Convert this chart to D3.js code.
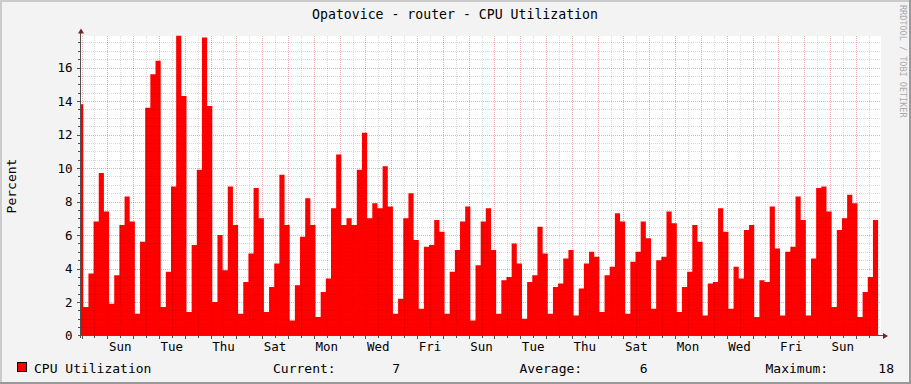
<!DOCTYPE html>
<html>
<head>
<meta charset="utf-8">
<script src="https://cdn.jsdelivr.net/npm/d3@7"></script>
<style>
  body { margin: 0; background: #fff; }
  svg text { font-family: "DejaVu Sans Mono", monospace; }
</style>
</head>
<body>
<svg id="chart" width="911" height="384"></svg>
<script>

////////////////////////// DATA //////////////////////////

// CPU utilization, one value per 4.8h step (first step is partial)
const cpuValues = [
  13.8, 1.7, 3.7, 6.8, 9.7, 7.4, 1.9, 3.6, 6.6, 8.3, 6.8, 1.3, 5.6, 13.6, 15.6, 16.4,
  1.7, 3.8, 8.9, 17.9, 14.3, 1.4, 5.4, 9.9, 17.8, 13.7, 2.0, 6.0, 3.9, 8.9, 6.6,
  1.3, 3.2, 4.9, 8.8, 7.0, 1.4, 2.9, 4.3, 9.6, 6.6, 0.9, 3.0, 5.9, 8.2, 6.6,
  1.1, 2.6, 3.4, 7.6, 10.8, 6.6, 7.0, 6.6, 9.9, 12.1, 7.0, 7.9, 7.6, 10.1, 7.7,
  1.3, 2.2, 7.0, 8.5, 5.7, 1.6, 5.3, 5.4, 6.9, 6.2, 1.3, 3.8, 5.1, 6.8, 7.7,
  0.9, 4.2, 6.8, 7.6, 5.1, 1.3, 3.3, 3.5, 5.5, 4.3, 1.0, 3.2, 3.6, 6.5, 4.9,
  1.3, 2.9, 3.1, 4.6, 5.1, 1.2, 2.8, 4.3, 5.0, 4.7, 1.4, 3.6, 4.1, 7.3, 6.8,
  1.3, 4.4, 5.0, 6.8, 5.8, 1.6, 4.5, 4.7, 7.4, 6.7, 1.4, 2.9, 3.8, 6.6, 5.6,
  1.2, 3.1, 3.2, 7.6, 6.2, 1.6, 4.1, 3.4, 6.3, 6.6, 1.1, 3.3, 3.2, 7.7, 5.2,
  1.2, 5.0, 5.3, 8.3, 6.9, 1.2, 4.6, 8.8, 8.9, 7.4, 1.7, 6.3, 7.0, 8.4, 7.9,
  1.1, 2.6, 3.5, 6.9
]

const yTickValues = [0, 2, 4, 6, 8, 10, 12, 14, 16]

const legendLabel = 'CPU Utilization'
const legendStats = [
  { label: 'Current:', value: '7' },
  { label: 'Average:', value: '6' },
  { label: 'Maximum:', value: '18' }
]

const titleText = 'Opatovice - router - CPU Utilization'
const yLabelText = 'Percent'
const creditText = 'RRDTOOL / TOBI OETIKER'

// time frame (a Saturday midnight, 31 days shown)
const HOUR = 3600 * 1000
const firstSat = Date.UTC(2010, 0, 2)
const timeStart = new Date(firstSat - 0.5 * HOUR)
const timeEnd = new Date(timeStart.getTime() + 31 * 24 * HOUR)
const stepMs = 4.8 * HOUR
const stepOffset = 1.6 * HOUR



////////////////////////// SETUP //////////////////////////

const svg = d3.select('#chart')
const W = 911, H = 384
const plotLeft = 81, plotRight = 881, plotTop = 36, plotBottom = 336

const xScale = d3.scaleUtc()
  .domain([timeStart, timeEnd])
  .range([plotLeft, plotRight])

const yScale = d3.scaleLinear()
  .domain([0, 17.9])
  .range([335.5, 35.7])

// step points, clipped to the frame start
const points = cpuValues.map((v, i) => {
  const t = firstSat + stepOffset + (i - 1) * stepMs
  return { t: new Date(Math.max(t, timeStart.getTime())), v: v }
})
points.push({
  t: new Date(firstSat + stepOffset + (cpuValues.length - 1) * stepMs),
  v: cpuValues[cpuValues.length - 1]
})



////////////////////////// BACKGROUND //////////////////////////

svg.append('rect')
  .attr('width', W).attr('height', H)
  .attr('fill', '#f3f3f3')

// shade frame
svg.append('rect').attr('x', 0).attr('y', 0).attr('width', W).attr('height', 2).attr('fill', '#cbcbcb')
svg.append('rect').attr('x', 0).attr('y', 0).attr('width', 2).attr('height', H).attr('fill', '#cbcbcb')
svg.append('rect').attr('x', 0).attr('y', H - 2).attr('width', W).attr('height', 2).attr('fill', '#999999')
svg.append('rect').attr('x', W - 2).attr('y', 0).attr('width', 2).attr('height', H).attr('fill', '#999999')

// canvas
svg.append('rect')
  .attr('x', plotLeft).attr('y', plotTop)
  .attr('width', plotRight - plotLeft).attr('height', plotBottom - plotTop)
  .attr('fill', '#ffffff')



////////////////////////// AREA //////////////////////////

const area = d3.area()
  .curve(d3.curveStepAfter)
  .x((d) => xScale(d.t))
  .y0(yScale(0))
  .y1((d) => yScale(d.v))

svg.append('path')
  .datum(points)
  .attr('d', area)
  .attr('fill', '#ff0000')



////////////////////////// GRID //////////////////////////

// translucent dark dots: light on the canvas, slightly darker on the red
const minorGrid = 'rgba(0,0,0,0.15)'
const majorGrid = 'rgba(210,0,0,0.33)'

const gridG = svg.append('g')
  .attr('shape-rendering', 'crispEdges')
  .attr('stroke-dasharray', '1,1')

// horizontal every 0.5, major every 2
const hLines = d3.range(1, 36).map((k) => k * 0.5)
hLines.forEach((v) => {
  const y = Math.round(yScale(v)) + 0.5
  gridG.append('line')
    .attr('x1', plotLeft).attr('x2', plotRight)
    .attr('y1', y).attr('y2', y)
    .attr('stroke', v % 2 === 0 ? majorGrid : minorGrid)
})

// vertical every 12h, major at midnight
const vLines = d3.utcHour.every(12).range(timeStart, timeEnd)
vLines.forEach((t) => {
  const x = Math.round(xScale(t)) + 0.5
  gridG.append('line')
    .attr('x1', x).attr('x2', x)
    .attr('y1', plotTop).attr('y2', plotBottom)
    .attr('stroke', t.getUTCHours() === 0 ? majorGrid : minorGrid)
})



////////////////////////// AXES //////////////////////////

const axisColor = '#505050'
const axisG = svg.append('g').attr('shape-rendering', 'crispEdges')

axisG.append('line')
  .attr('x1', 80.5).attr('x2', 80.5)
  .attr('y1', 33).attr('y2', 338)
  .attr('stroke', axisColor)

axisG.append('line')
  .attr('x1', 78).attr('x2', 883)
  .attr('y1', 335.5).attr('y2', 335.5)
  .attr('stroke', axisColor)

// small ticks on the axes
hLines.forEach((v) => {
  const y = Math.round(yScale(v)) + 0.5
  axisG.append('line')
    .attr('x1', v % 2 === 0 ? 77 : 78).attr('x2', 80)
    .attr('y1', y).attr('y2', y)
    .attr('stroke', axisColor)
})
vLines.forEach((t) => {
  const x = Math.round(xScale(t)) + 0.5
  axisG.append('line')
    .attr('x1', x).attr('x2', x)
    .attr('y1', 336).attr('y2', t.getUTCHours() === 0 ? 339 : 338)
    .attr('stroke', axisColor)
})

// arrows
svg.append('path')
  .attr('d', 'M78,33.5 L84,33.5 L81,28.5 Z')
  .attr('fill', '#7f2020')
svg.append('path')
  .attr('d', 'M883,333 L883,339 L888,336 Z')
  .attr('fill', '#7f2020')

// y tick labels
svg.selectAll('.y-label')
  .data(yTickValues)
  .enter()
  .append('text')
  .attr('class', 'y-label')
  .attr('x', 72.5)
  .attr('y', (d) => yScale(d) + 4.5)
  .attr('text-anchor', 'end')
  .attr('font-size', '12.5px')
  .attr('fill', '#000')
  .text((d) => d)

// day labels every 2 days, centred on noon
const labelDays = d3.utcDay.range(timeStart, timeEnd).filter((d, i) => i % 2 === 1)
svg.selectAll('.x-label')
  .data(labelDays)
  .enter()
  .append('text')
  .attr('class', 'x-label')
  .attr('x', (d) => xScale(new Date(d.getTime() + 12 * HOUR)))
  .attr('y', 351)
  .attr('text-anchor', 'middle')
  .attr('font-size', '12.5px')
  .attr('fill', '#000')
  .text((d) => d3.utcFormat('%a')(d))



////////////////////////// TEXTS //////////////////////////

svg.append('text')
  .attr('x', 455).attr('y', 18.5)
  .attr('text-anchor', 'middle')
  .attr('font-size', '13.2px')
  .text(titleText)

svg.append('text')
  .attr('transform', 'translate(15.5,186) rotate(-90)')
  .attr('text-anchor', 'middle')
  .attr('font-size', '13px')
  .text(yLabelText)

svg.append('text')
  .attr('transform', 'translate(900,5) rotate(90)')
  .attr('font-size', '8.5px')
  .attr('fill', '#aaaaaa')
  .text(creditText)

// legend
svg.append('rect')
  .attr('x', 17.5).attr('y', 362.5)
  .attr('width', 9).attr('height', 9)
  .attr('fill', '#ff0000')
  .attr('stroke', '#000')

svg.append('text')
  .attr('x', 34).attr('y', 372.5)
  .attr('font-size', '13px')
  .text(legendLabel)

const statLabelX = [273, 519.5, 765.5]
const statValueX = [400, 647.5, 894]
legendStats.forEach((s, i) => {
  svg.append('text')
    .attr('x', statLabelX[i]).attr('y', 372.5)
    .attr('font-size', '13px')
    .text(s.label)
  svg.append('text')
    .attr('x', statValueX[i]).attr('y', 372.5)
    .attr('text-anchor', 'end')
    .attr('font-size', '13px')
    .text(s.value)
})

</script>
</body>
</html>
